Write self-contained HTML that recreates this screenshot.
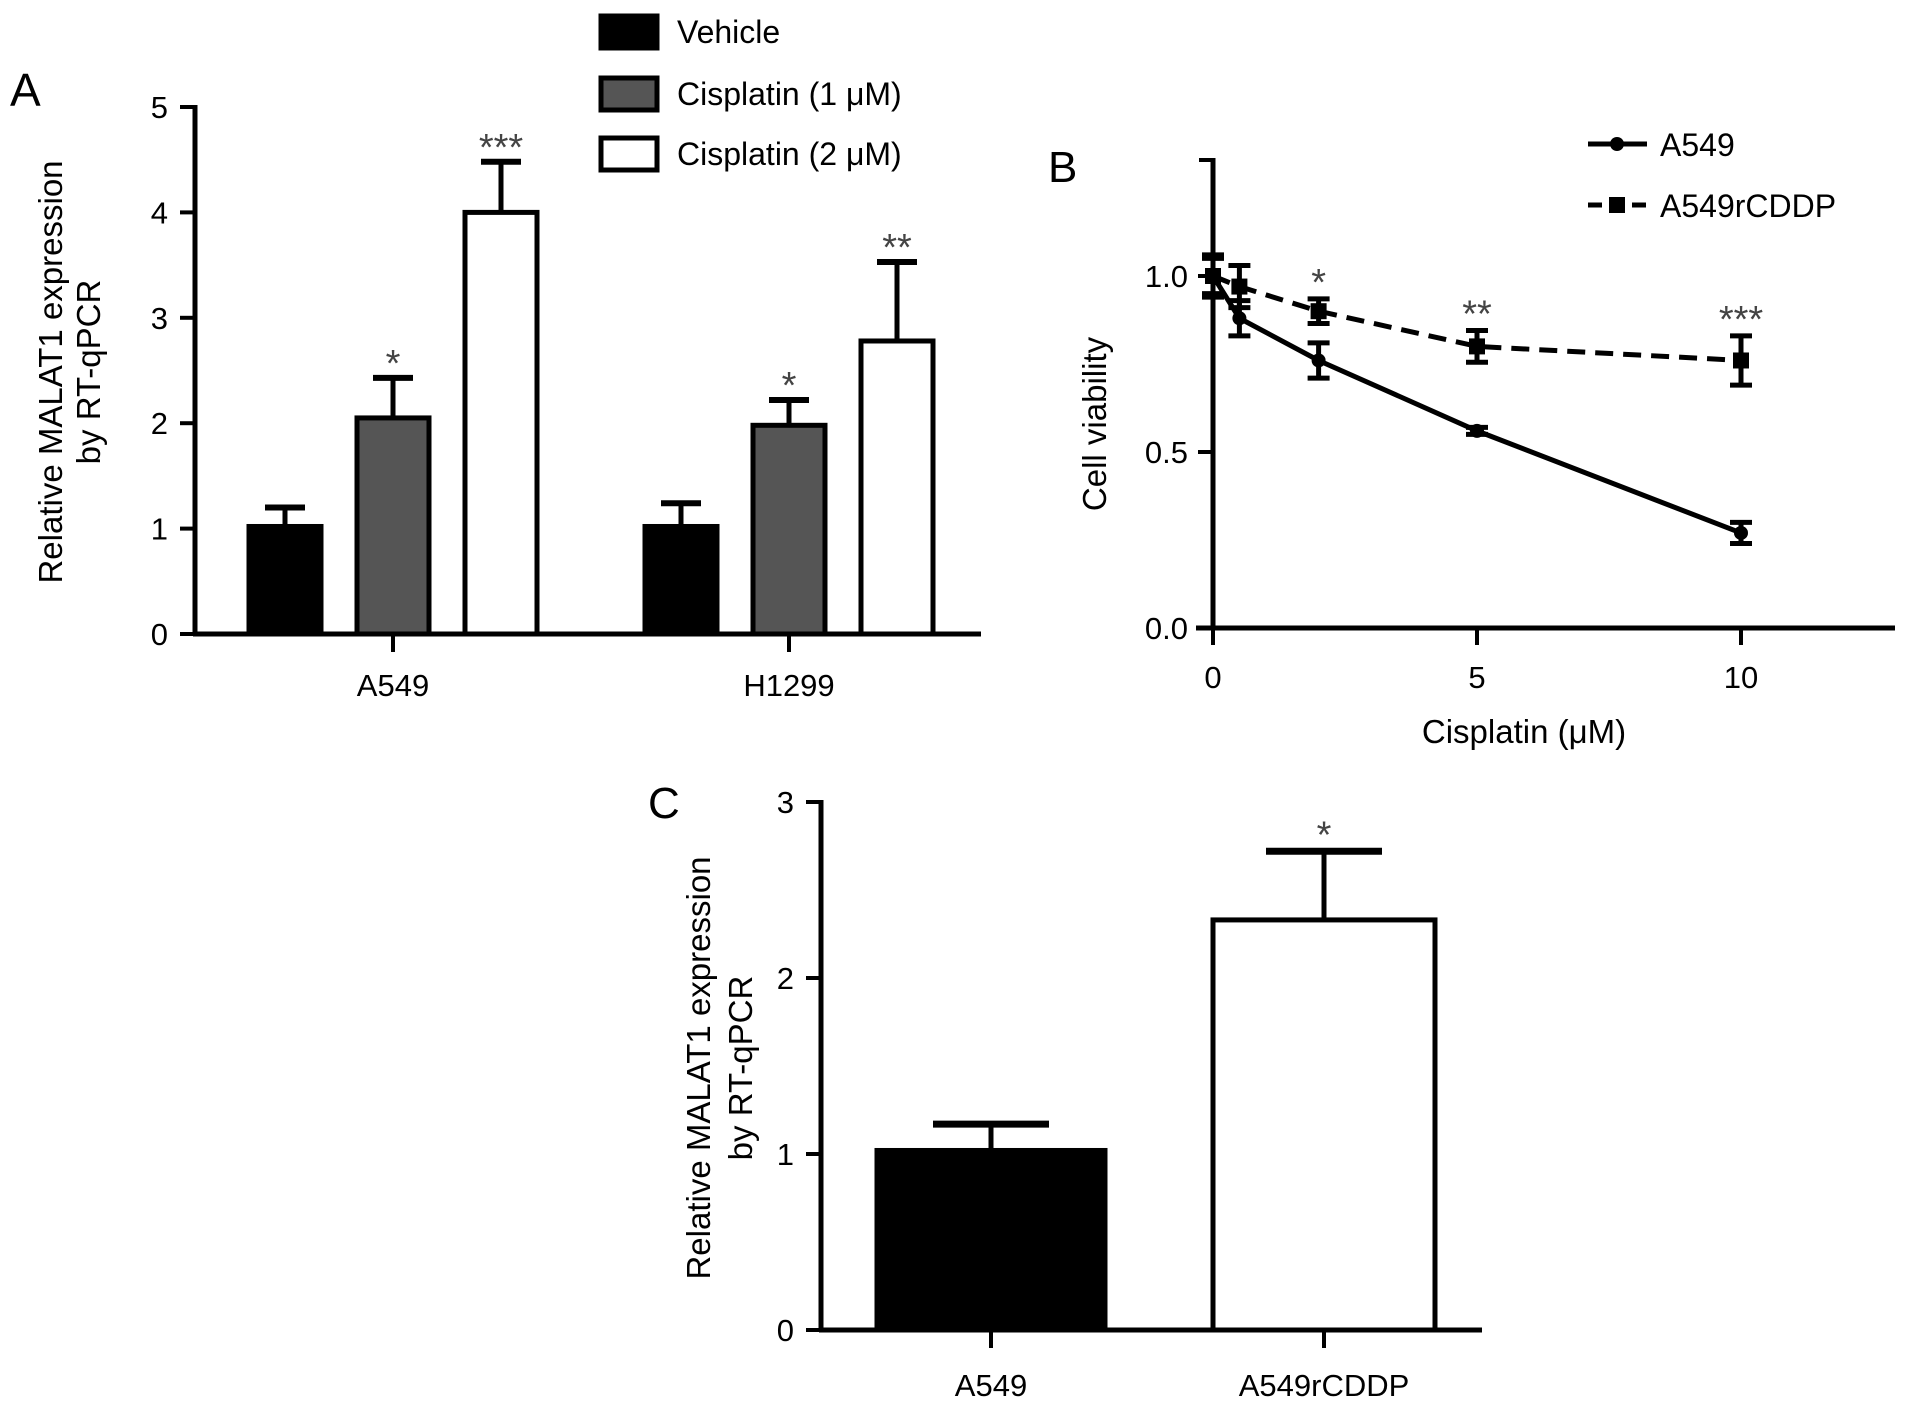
<!DOCTYPE html>
<html><head><meta charset="utf-8"><style>
html,body{margin:0;padding:0;background:#fff}
svg{display:block;font-family:"Liberation Sans",Arial,sans-serif}
</style></head><body>
<svg id="fig" width="1913" height="1412" viewBox="0 0 1913 1412"></svg>
<script>
// Panel A data
const aGroups = ["A549", "H1299"];
const aSeries = ["Vehicle", "Cisplatin (1 μM)", "Cisplatin (2 μM)"];
const aVehicle = [1.02, 1.02];
const aCis1 = [2.05, 1.98];
const aCis2 = [4.0, 2.78];
const aVehicleErr = [0.18, 0.22];
const aCis1Err = [0.38, 0.24];
const aCis2Err = [0.48, 0.75];
const aCis1Stars = ["*", "*"];
const aCis2Stars = ["***", "**"];
const aTicks = [0, 1, 2, 3, 4, 5];
// Panel B data
const bX = [0, 0.5, 2, 5, 10];
const bA549 = [1.0, 0.88, 0.76, 0.56, 0.27];
const bA549Err = [0.05, 0.05, 0.05, 0.01, 0.03];
const bR = [1.0, 0.97, 0.90, 0.80, 0.76];
const bRErr = [0.06, 0.06, 0.035, 0.045, 0.07];
const bStars = ["", "", "*", "**", "***"];
const bYTicks = [0.0, 0.5, 1.0];
const bXTicks = [0, 5, 10];
// Panel C data
const cCats = ["A549", "A549rCDDP"];
const cVals = [1.02, 2.33];
const cErr = [0.15, 0.39];
const cStars = ["", "*"];
const cTicks = [0, 1, 2, 3];

const svg = document.getElementById('fig');
const NS = 'http://www.w3.org/2000/svg';
function mk(tag, attrs, text, name, inter) {
  const e = document.createElementNS(NS, tag);
  for (const k in attrs) e.setAttribute(k, attrs[k]);
  if (text !== undefined && text !== null) e.textContent = text;
  
  
  svg.appendChild(e);
  return e;
}
const LW = 5;
const TF = 31, TT = 33, SF = 38;

// ---------- Panel A ----------
const ayScale = v => 634 - v * 105.4;
mk('text', {x: 10, y: 106, 'font-size': 46}, 'A', 'panel-a-label');
mk('line', {x1: 195, y1: ayScale(5.0) - 2, x2: 195, y2: 636, stroke: '#000', 'stroke-width': LW}, null, 'panel-a-y-axis');
mk('line', {x1: 193, y1: 634, x2: 981, y2: 634, stroke: '#000', 'stroke-width': LW}, null, 'panel-a-x-axis');
aTicks.forEach(t => {
  const y = ayScale(t);
  mk('line', {x1: 180, y1: y, x2: 195, y2: y, stroke: '#000', 'stroke-width': 4}, null, 'panel-a-y-tick');
  mk('text', {x: 168, y: y + 11, 'font-size': TF, 'text-anchor': 'end'}, String(t), 'panel-a-y-tick-label');
});
const aGroupCenters = [393, 789];
const aOffsets = [-108, 0, 108];
const aBarW = 72;
const aFills = ['#000', '#555', '#fff'];
const aVals = [aVehicle, aCis1, aCis2];
const aErrs = [aVehicleErr, aCis1Err, aCis2Err];
const aStars = [["", ""], aCis1Stars, aCis2Stars];
aGroups.forEach((g, gi) => {
  const cx = aGroupCenters[gi];
  mk('line', {x1: cx, y1: 634, x2: cx, y2: 652, stroke: '#000', 'stroke-width': 4}, null, 'panel-a-x-tick');
  mk('text', {x: cx, y: 696, 'font-size': TF, 'text-anchor': 'middle'}, g, 'panel-a-x-tick-label');
  aSeries.forEach((s, si) => {
    const v = aVals[si][gi], e = aErrs[si][gi];
    const bx = cx + aOffsets[si] - aBarW / 2;
    const yt = ayScale(v), ye = ayScale(v + e);
    mk('line', {x1: bx + aBarW / 2, y1: yt, x2: bx + aBarW / 2, y2: ye, stroke: '#000', 'stroke-width': LW}, null, 'panel-a-error-bar');
    mk('line', {x1: bx + aBarW / 2 - 20, y1: ye, x2: bx + aBarW / 2 + 20, y2: ye, stroke: '#000', 'stroke-width': LW + 1}, null, 'panel-a-error-cap');
    mk('rect', {x: bx, y: yt, width: aBarW, height: 634 - yt, fill: aFills[si], stroke: '#000', 'stroke-width': LW}, null, 'panel-a-bar', true);
    if (aStars[si][gi]) mk('text', {x: bx + aBarW / 2, y: ye - 2, 'font-size': SF, 'text-anchor': 'middle', fill: '#444'}, aStars[si][gi], 'panel-a-significance');
  });
});
mk('text', {transform: 'translate(62,372) rotate(-90)', 'font-size': TT, 'text-anchor': 'middle'}, 'Relative MALAT1 expression', 'panel-a-y-title-line1');
mk('text', {transform: 'translate(100,372) rotate(-90)', 'font-size': TT, 'text-anchor': 'middle'}, 'by RT-qPCR', 'panel-a-y-title-line2');
const legY = [32, 94, 154];
aSeries.forEach((s, i) => {
  mk('rect', {x: 601, y: legY[i] - 16, width: 56, height: 32, fill: aFills[i], stroke: '#000', 'stroke-width': LW}, null, 'legend-swatch');
  mk('text', {x: 677, y: legY[i] + 11, 'font-size': 32}, s, 'legend-entry');
});

// ---------- Panel B ----------
const bxS = x => 1213 + x * 52.8;
const byS = v => 628 - v * 352;
mk('text', {x: 1048, y: 182, 'font-size': 44}, 'B', 'panel-b-label');
mk('line', {x1: 1213, y1: 158, x2: 1213, y2: 630, stroke: '#000', 'stroke-width': LW}, null, 'panel-b-y-axis');
mk('line', {x1: 1196, y1: 628, x2: 1895, y2: 628, stroke: '#000', 'stroke-width': LW}, null, 'panel-b-x-axis');
mk('line', {x1: 1199, y1: 160, x2: 1213, y2: 160, stroke: '#000', 'stroke-width': 4}, null, 'panel-b-y-axis-cap');
bYTicks.forEach(t => {
  const y = byS(t);
  mk('line', {x1: 1198, y1: y, x2: 1213, y2: y, stroke: '#000', 'stroke-width': 4}, null, 'panel-b-y-tick');
  mk('text', {x: 1188, y: y + 11, 'font-size': TF, 'text-anchor': 'end'}, t.toFixed(1), 'panel-b-y-tick-label');
});
bXTicks.forEach(t => {
  const x = bxS(t);
  mk('line', {x1: x, y1: 628, x2: x, y2: 645, stroke: '#000', 'stroke-width': 4}, null, 'panel-b-x-tick');
  mk('text', {x: x, y: 688, 'font-size': TF, 'text-anchor': 'middle'}, String(t), 'panel-b-x-tick-label');
});
mk('text', {x: 1524, y: 743, 'font-size': TT, 'text-anchor': 'middle'}, 'Cisplatin (μM)', 'panel-b-x-title');
mk('text', {transform: 'translate(1106,424) rotate(-90)', 'font-size': TT, 'text-anchor': 'middle'}, 'Cell viability', 'panel-b-y-title');
function seriesB(vals, errs, dash, marker, name) {
  const pts = bX.map((x, i) => bxS(x) + ',' + byS(vals[i])).join(' ');
  mk('polyline', {points: pts, fill: 'none', stroke: '#000', 'stroke-width': 5, 'stroke-dasharray': dash}, null, name + '-line');
  bX.forEach((x, i) => {
    const px = bxS(x), py = byS(vals[i]), e = errs[i];
    mk('line', {x1: px, y1: byS(vals[i] + e), x2: px, y2: byS(vals[i] - e), stroke: '#000', 'stroke-width': 5}, null, name + '-error-bar');
    mk('line', {x1: px - 11, y1: byS(vals[i] + e), x2: px + 11, y2: byS(vals[i] + e), stroke: '#000', 'stroke-width': 5}, null, name + '-error-cap');
    mk('line', {x1: px - 11, y1: byS(vals[i] - e), x2: px + 11, y2: byS(vals[i] - e), stroke: '#000', 'stroke-width': 5}, null, name + '-error-cap');
    if (marker === 'c') mk('circle', {cx: px, cy: py, r: 7, fill: '#000'}, null, name + '-point', true);
    else mk('rect', {x: px - 8, y: py - 8, width: 16, height: 16, fill: '#000'}, null, name + '-point', true);
  });
}
seriesB(bA549, bA549Err, 'none', 'c', 'a549');
seriesB(bR, bRErr, '18,10', 's', 'a549rcddp');
bX.forEach((x, i) => {
  if (bStars[i]) mk('text', {x: bxS(x), y: byS(bR[i] + bRErr[i]) - 4, 'font-size': SF, 'text-anchor': 'middle', fill: '#444'}, bStars[i], 'panel-b-significance');
});
mk('line', {x1: 1588, y1: 144, x2: 1647, y2: 144, stroke: '#000', 'stroke-width': 5}, null, 'legend-a549-line');
mk('circle', {cx: 1617, cy: 144, r: 7, fill: '#000'}, null, 'legend-a549-marker');
mk('text', {x: 1660, y: 156, 'font-size': 32}, 'A549', 'legend-entry');
mk('line', {x1: 1588, y1: 205, x2: 1647, y2: 205, stroke: '#000', 'stroke-width': 5, 'stroke-dasharray': '14,8'}, null, 'legend-a549rcddp-line');
mk('rect', {x: 1609, y: 197, width: 16, height: 16, fill: '#000'}, null, 'legend-a549rcddp-marker');
mk('text', {x: 1660, y: 217, 'font-size': 32}, 'A549rCDDP', 'legend-entry');

// ---------- Panel C ----------
const cyS = v => 1330 - v * 176;
mk('text', {x: 648, y: 818, 'font-size': 44}, 'C', 'panel-c-label');
mk('line', {x1: 821, y1: cyS(3) - 2, x2: 821, y2: 1332, stroke: '#000', 'stroke-width': LW}, null, 'panel-c-y-axis');
mk('line', {x1: 819, y1: 1330, x2: 1482, y2: 1330, stroke: '#000', 'stroke-width': LW}, null, 'panel-c-x-axis');
cTicks.forEach(t => {
  const y = cyS(t);
  mk('line', {x1: 806, y1: y, x2: 821, y2: y, stroke: '#000', 'stroke-width': 4}, null, 'panel-c-y-tick');
  mk('text', {x: 794, y: y + 11, 'font-size': TF, 'text-anchor': 'end'}, String(t), 'panel-c-y-tick-label');
});
const cCenters = [991, 1324];
const cBarW = [228, 222];
const cFills = ['#000', '#fff'];
cCats.forEach((c, i) => {
  const cx = cCenters[i], w = cBarW[i];
  const yt = cyS(cVals[i]), ye = cyS(cVals[i] + cErr[i]);
  mk('line', {x1: cx, y1: 1330, x2: cx, y2: 1348, stroke: '#000', 'stroke-width': 4}, null, 'panel-c-x-tick');
  mk('text', {x: cx, y: 1396, 'font-size': TF, 'text-anchor': 'middle'}, c, 'panel-c-x-tick-label');
  mk('line', {x1: cx, y1: yt, x2: cx, y2: ye, stroke: '#000', 'stroke-width': LW}, null, 'panel-c-error-bar');
  mk('line', {x1: cx - 58, y1: ye, x2: cx + 58, y2: ye, stroke: '#000', 'stroke-width': LW + 2}, null, 'panel-c-error-cap');
  mk('rect', {x: cx - w / 2, y: yt, width: w, height: 1330 - yt, fill: cFills[i], stroke: '#000', 'stroke-width': LW}, null, 'panel-c-bar', true);
  if (cStars[i]) mk('text', {x: cx, y: ye - 4, 'font-size': SF, 'text-anchor': 'middle', fill: '#444'}, cStars[i], 'panel-c-significance');
});
mk('text', {transform: 'translate(710,1068) rotate(-90)', 'font-size': TT, 'text-anchor': 'middle'}, 'Relative MALAT1 expression', 'panel-c-y-title-line1');
mk('text', {transform: 'translate(752,1068) rotate(-90)', 'font-size': TT, 'text-anchor': 'middle'}, 'by RT-qPCR', 'panel-c-y-title-line2');
</script>
</body></html>
